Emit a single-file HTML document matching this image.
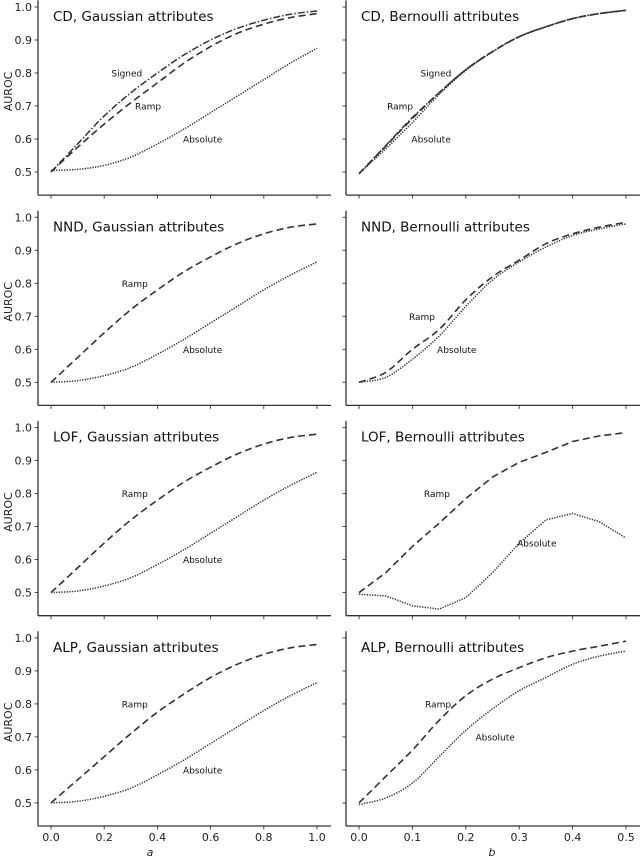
<!DOCTYPE html>
<html><head><meta charset="utf-8">
<style>
html,body{margin:0;padding:0;background:#fff;}
svg{display:block;font-family:"DejaVu Sans","Liberation Sans",sans-serif;}
</style></head>
<body>
<svg id="fig" width="640" height="857" viewBox="0 0 640 857" xmlns="http://www.w3.org/2000/svg"></svg>
<script>
// ---- data ----
const gaussX = [0,0.1,0.2,0.3,0.4,0.5,0.6,0.7,0.8,0.9,1.0];
const bernX = [0,0.05,0.1,0.15,0.2,0.25,0.3,0.35,0.4,0.45,0.5];
const yTicks = [0.5,0.6,0.7,0.8,0.9,1.0];
const yTickLabels = ["0.5","0.6","0.7","0.8","0.9","1.0"];
const gaussTicks = [0,0.2,0.4,0.6,0.8,1.0];
const gaussTickLabels = ["0.0","0.2","0.4","0.6","0.8","1.0"];
const bernTicks = [0,0.1,0.2,0.3,0.4,0.5];
const bernTickLabels = ["0.0","0.1","0.2","0.3","0.4","0.5"];

const cdGaussSigned = [0.5,0.585,0.67,0.74,0.8,0.855,0.9,0.935,0.96,0.978,0.988];
const cdGaussRamp   = [0.5,0.575,0.645,0.71,0.77,0.83,0.88,0.92,0.948,0.968,0.98];
const cdGaussAbs    = [0.505,0.508,0.52,0.545,0.585,0.63,0.68,0.73,0.78,0.83,0.875];
const cdBernSigned  = [0.495,0.58,0.665,0.74,0.81,0.865,0.91,0.94,0.965,0.98,0.99];
const cdBernRamp    = [0.495,0.578,0.662,0.74,0.81,0.865,0.91,0.94,0.965,0.98,0.99];
const cdBernAbs     = [0.495,0.57,0.65,0.735,0.808,0.864,0.91,0.94,0.965,0.98,0.99];
const nndGaussRamp  = [0.5,0.575,0.65,0.72,0.78,0.835,0.88,0.92,0.95,0.97,0.98];
const nndGaussAbs   = [0.5,0.505,0.52,0.545,0.585,0.63,0.68,0.73,0.78,0.825,0.865];
const nndBernRamp   = [0.5,0.53,0.6,0.66,0.75,0.82,0.87,0.92,0.95,0.97,0.985];
const nndBernAbs    = [0.5,0.515,0.57,0.64,0.73,0.81,0.865,0.91,0.945,0.965,0.98];
const lofGaussRamp  = [0.5,0.575,0.65,0.72,0.78,0.835,0.88,0.92,0.95,0.97,0.98];
const lofGaussAbs   = [0.5,0.505,0.52,0.545,0.585,0.63,0.68,0.73,0.78,0.825,0.865];
const lofBernRamp   = [0.5,0.56,0.64,0.71,0.785,0.85,0.895,0.925,0.958,0.975,0.985];
const lofBernAbs    = [0.495,0.49,0.46,0.45,0.485,0.56,0.65,0.72,0.74,0.715,0.665];
const alpGaussRamp  = [0.5,0.57,0.64,0.71,0.775,0.83,0.88,0.92,0.95,0.97,0.98];
const alpGaussAbs   = [0.5,0.505,0.52,0.545,0.585,0.63,0.68,0.73,0.78,0.825,0.865];
const alpBernRamp   = [0.5,0.58,0.66,0.75,0.825,0.875,0.91,0.94,0.96,0.975,0.99];
const alpBernAbs    = [0.495,0.515,0.56,0.64,0.72,0.785,0.84,0.88,0.92,0.945,0.96];

const NS = "http://www.w3.org/2000/svg";
const svg = document.getElementById("fig");
function mk(tag, attrs, parent){ const e=document.createElementNS(NS,tag); for(const k in attrs) e.setAttribute(k,attrs[k]); (parent||svg).appendChild(e); return e; }

const styles = {
  signed:{dash:"7,2,1.5,2", w:1.5},
  ramp:{dash:"7,4", w:1.6},
  abs:{dash:"1.3,1.3", w:1.5}
};

function smoothPath(pts, smooth){
  let d="M"+pts[0][0].toFixed(1)+","+pts[0][1].toFixed(1);
  for(let i=0;i<pts.length-1;i++){
    const p0=pts[Math.max(0,i-1)], p1=pts[i], p2=pts[i+1], p3=pts[Math.min(pts.length-1,i+2)];
    if(!smooth){ d+=" L"+p2[0].toFixed(1)+","+p2[1].toFixed(1); continue; }
    const c1=[p1[0]+(p2[0]-p0[0])/6, p1[1]+(p2[1]-p0[1])/6];
    const c2=[p2[0]-(p3[0]-p1[0])/6, p2[1]-(p3[1]-p1[1])/6];
    d+=` C${c1[0].toFixed(1)},${c1[1].toFixed(1)} ${c2[0].toFixed(1)},${c2[1].toFixed(1)} ${p2[0].toFixed(1)},${p2[1].toFixed(1)}`;
  }
  return d;
}

const panels = [
  {name:"cd-gaussian", title:"CD, Gaussian attributes", row:0, col:0, series:[["signed",cdGaussSigned],["ramp",cdGaussRamp],["abs",cdGaussAbs]],
   labels:[["Signed",0.285,0.8],["Ramp",0.365,0.7],["Absolute",0.57,0.6]]},
  {name:"cd-bernoulli", title:"CD, Bernoulli attributes", row:0, col:1, series:[["signed",cdBernSigned],["ramp",cdBernRamp],["abs",cdBernAbs]],
   labels:[["Signed",0.144,0.8],["Ramp",0.077,0.7],["Absolute",0.135,0.6]]},
  {name:"nnd-gaussian", title:"NND, Gaussian attributes", row:1, col:0, series:[["ramp",nndGaussRamp],["abs",nndGaussAbs]],
   labels:[["Ramp",0.315,0.8],["Absolute",0.57,0.6]]},
  {name:"nnd-bernoulli", title:"NND, Bernoulli attributes", row:1, col:1, series:[["ramp",nndBernRamp],["abs",nndBernAbs]],
   labels:[["Ramp",0.118,0.7],["Absolute",0.183,0.6]]},
  {name:"lof-gaussian", title:"LOF, Gaussian attributes", row:2, col:0, series:[["ramp",lofGaussRamp],["abs",lofGaussAbs]],
   labels:[["Ramp",0.315,0.8],["Absolute",0.57,0.6]]},
  {name:"lof-bernoulli", title:"LOF, Bernoulli attributes", row:2, col:1, series:[["ramp",lofBernRamp],["abs",lofBernAbs]],
   labels:[["Ramp",0.146,0.8],["Absolute",0.333,0.65]]},
  {name:"alp-gaussian", title:"ALP, Gaussian attributes", row:3, col:0, series:[["ramp",alpGaussRamp],["abs",alpGaussAbs]],
   labels:[["Ramp",0.315,0.8],["Absolute",0.57,0.6]]},
  {name:"alp-bernoulli", title:"ALP, Bernoulli attributes", row:3, col:1, series:[["ramp",alpBernRamp],["abs",alpBernAbs]],
   labels:[["Ramp",0.148,0.8],["Absolute",0.255,0.7]]}
];

const ink="#333";
panels.forEach(p=>{
  const top1 = 7 + p.row*210.3;
  const ys = v => top1 + (1.0 - v)*330;
  const gauss = p.col===0;
  const xs = gauss ? (v => 51 + v*266) : (v => 359 + v*534);
  const xdata = gauss ? gaussX : bernX;
  const g = mk("g",{});
  
  
  const xL = gauss ? 38 : 346, xR = gauss ? 331 : 640;
  const yB = ys(0.43), yT = ys(1.02);
  const sl = mk("line",{x1:xL,y1:yT,x2:xL,y2:yB,stroke:ink,"stroke-width":1.3},g);
   
  const sb = mk("line",{x1:xL,y1:yB,x2:xR,y2:yB,stroke:ink,"stroke-width":1.3},g);
   
  yTicks.forEach((t,i)=>{
    const y=ys(t);
    mk("line",{x1:xL-3.5,y1:y,x2:xL,y2:y,stroke:ink,"stroke-width":0.9},g);
    if(gauss){
      const tx=mk("text",{x:xL-6,y:y+4,"font-size":11,"text-anchor":"end",fill:"#222"},g);
      tx.textContent=yTickLabels[i];
       
    }
  });
  const xt = gauss?gaussTicks:bernTicks, xl = gauss?gaussTickLabels:bernTickLabels;
  xt.forEach((t,i)=>{
    const x=xs(t);
    mk("line",{x1:x,y1:yB,x2:x,y2:yB+3.5,stroke:ink,"stroke-width":0.9},g);
    if(p.row===3){
      const tx=mk("text",{x:x,y:yB+15,"font-size":11,"text-anchor":"middle",fill:"#222"},g);
      tx.textContent=xl[i];
       
    }
  });
  const tt=mk("text",{x:xL+15,y:top1+14,"font-size":13.5,fill:"#111"},g);
  tt.textContent=p.title;
   
  const smooth = p.name!=="lof-bernoulli";
  p.series.forEach(([k,arr])=>{
    const pts = arr.map((v,i)=>[xs(xdata[i]), ys(v)]);
    const path=mk("path",{d:smoothPath(pts, smooth),fill:"none",stroke:ink,"stroke-width":styles[k].w,"stroke-dasharray":styles[k].dash,"stroke-linejoin":"round"},g);
    
    
  });
  p.labels.forEach(([txt,xv,yv])=>{
    const tx=mk("text",{x:xs(xv),y:ys(yv)+3.5,"font-size":9,"text-anchor":"middle",fill:"#111"},g);
    tx.textContent=txt;
    
    
  });
  if(gauss){
    const cy=(ys(0.5)+ys(1.0))/2+2;
    const yl=mk("text",{x:12,y:cy,"font-size":11,"text-anchor":"middle",fill:"#222",transform:`rotate(-90 12 ${cy})`},g);
    yl.textContent="AUROC";
     
  }
});
const xa=mk("text",{x:150,y:856,"font-size":11,"text-anchor":"middle","font-style":"italic",fill:"#222"});
xa.textContent="a";
 
const xb=mk("text",{x:492,y:856,"font-size":11,"text-anchor":"middle","font-style":"italic",fill:"#222"});
xb.textContent="b";
 
</script>
</body></html>
